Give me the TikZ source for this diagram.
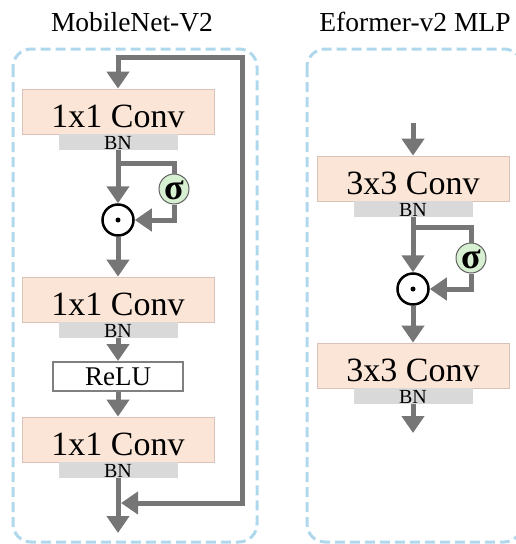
\documentclass[tikz,border=0pt]{standalone}
\usepackage{fontspec}
\setmainfont{Liberation Serif}
\usetikzlibrary{arrows.meta}
\definecolor{flow}{HTML}{767676}
\definecolor{convfill}{HTML}{FBE5D6}
\definecolor{convedge}{HTML}{D9C3B8}
\definecolor{bnfill}{HTML}{D9D9D9}
\definecolor{reluedge}{HTML}{808080}
\definecolor{gatefill}{HTML}{D8F0D2}
\definecolor{gateedge}{HTML}{606060}
\definecolor{panelblue}{HTML}{B0D8EC}
\begin{document}
\begin{tikzpicture}[x=1pt,y=-1pt,
  flowline/.style={draw=flow, line width=5pt, line join=miter},
  flowarrow/.style={flowline, -{Triangle[width=22pt,length=17pt]}},
  convbox/.style={draw=convedge, fill=convfill, line width=0.8pt,
    minimum width=192pt, minimum height=45pt, inner sep=0pt,
    font=\fontsize{34}{40}\selectfont, text height=31pt, text depth=0pt},
  bnbox/.style={fill=bnfill, minimum width=119pt, minimum height=16pt,
    inner sep=0pt, font=\fontsize{20}{24}\selectfont,
    text height=14pt, text depth=0pt},
  relubox/.style={draw=reluedge, fill=white, line width=2pt,
    minimum width=130pt, minimum height=29pt, inner sep=0pt,
    font=\fontsize{27}{32}\selectfont, text height=17pt, text depth=0pt},
  gate/.style={circle, draw=gateedge, fill=gatefill, line width=1pt,
    minimum size=30pt, inner sep=0pt, font=\fontsize{36}{40}\selectfont\bfseries,
    text height=20pt, text depth=0pt},
  mult/.style={circle, draw=black, line width=2.5pt, minimum size=31pt, inner sep=0pt},
  panel/.style={draw=panelblue, line width=3pt, dash pattern=on 10pt off 5pt,
    rounded corners=18pt},
  title/.style={font=\fontsize{27.5}{32}\selectfont, anchor=base}]
\useasboundingbox (0,0) rectangle (515,544);

% panels and titles
\draw[panel] (13,49) rectangle (257,542);
\draw[panel] (307,49) rectangle (522,542);
\node[title] (tL) at (132,31) {MobileNet-V2};
\node[title] (tR) at (415,31) {Eformer-v2 MLP};

% ---------------- MobileNet-V2 block ----------------
\node[convbox] (c1) at (118,111.5) {1x1 Conv};
\node[bnbox]   (b1) at (118,142) {BN};
\node[mult]    (m1) at (118,220) {};
\fill (m1.center) circle (2.5pt);
\node[gate]    (g1) at (174,189) {σ};
\node[convbox] (c2) at (118,299.5) {1x1 Conv};
\node[bnbox]   (b2) at (118,330) {BN};
\node[relubox] (r1) at (118,376.5) {ReLU};
\node[convbox] (c3) at (118,439.5) {1x1 Conv};
\node[bnbox]   (b3) at (118,470) {BN};

\coordinate (inL) at (118,57);
\coordinate (skA) at (242,57);
\coordinate (skB) at (242,503);
\coordinate (mgL) at (121,503);
\coordinate (brL) at (118,163);
\coordinate (outL) at (118,533);

\draw[flowarrow] (inL) -- (c1.north);
\draw[flowarrow] ([xshift=-2.5pt]inL) -- (skA) -- (skB) -- (mgL);
\draw[flowarrow] (b1.south) -- (m1.north);
\draw[flowline] (brL) -| (g1.north);
\draw[flowarrow] (g1.south) |- (m1.east);
\draw[flowarrow] (m1.south) -- (c2.north);
\draw[flowarrow] (b2.south) -- (r1.north);
\draw[flowarrow] (r1.south) -- (c3.north);
\draw[flowarrow] (b3.south) -- (outL);

% ---------------- Eformer-v2 MLP block ----------------
\node[convbox] (c4) at (413,178.5) {3x3 Conv};
\node[bnbox]   (b4) at (413,209) {BN};
\node[mult]    (m2) at (413,289) {};
\fill (m2.center) circle (2.5pt);
\node[gate]    (g2) at (471,258) {σ};
\node[convbox] (c5) at (413,365.5) {3x3 Conv};
\node[bnbox]   (b5) at (413,396) {BN};

\coordinate (inR) at (413,123);
\coordinate (brR) at (413,227);
\coordinate (outR) at (413,433);

\draw[flowarrow] (inR) -- (c4.north);
\draw[flowarrow] (b4.south) -- (m2.north);
\draw[flowline] (brR) -| (g2.north);
\draw[flowarrow] (g2.south) |- (m2.east);
\draw[flowarrow] (m2.south) -- (c5.north);
\draw[flowarrow] (b5.south) -- (outR);
\end{tikzpicture}
\end{document}
